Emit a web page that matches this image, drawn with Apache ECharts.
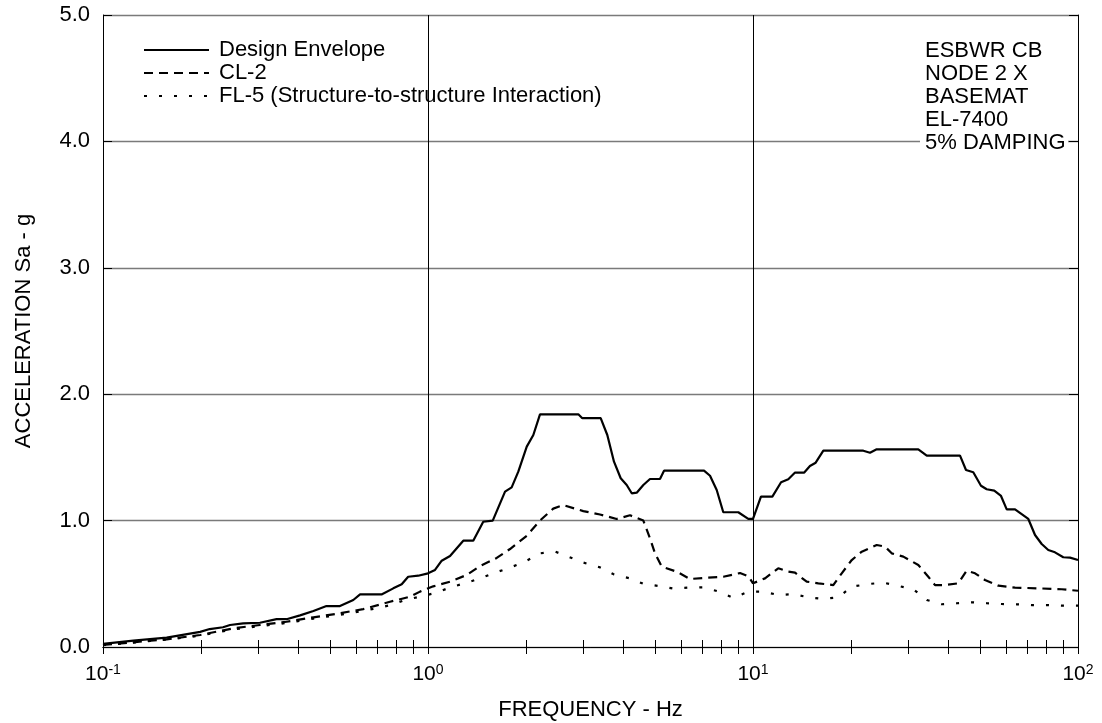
<!DOCTYPE html>
<html>
<head>
<meta charset="utf-8">
<script src="https://cdn.jsdelivr.net/npm/echarts@6/dist/echarts.min.js"></script>
<style>
html,body{margin:0;padding:0;background:#fff;}
#chart{width:1102px;height:723px;}
</style>
</head>
<body>
<div id="chart"></div>
<script>
// ---- data ----
const seriesNames = ['Design Envelope', 'CL-2', 'FL-5 (Structure-to-structure Interaction)'];

const designFreq = [0.1,0.124,0.157,0.199,0.213,0.234,0.246,0.27,0.304,0.342,0.367,0.404,0.444,0.487,0.536,0.589,0.618,0.722,0.782,0.83,0.869,0.933,1.0,1.051,1.102,1.169,1.284,1.378,1.479,1.582,1.726,1.809,1.896,2.013,2.109,2.211,2.901,2.984,3.399,3.562,3.735,3.917,4.087,4.235,4.388,4.598,4.82,5.174,5.324,7.068,7.375,7.733,8.101,9.01,9.672,10.0,10.58,11.47,12.2,12.84,13.47,14.38,14.97,15.59,16.46,21.85,22.91,24.02,32.26,34.24,43.35,45.23,47.62,50.29,52.37,55.25,57.96,60.35,64.01,70.33,73.75,77.32,81.01,84.95,90.1,94.5,100];
const designVal = [0.024,0.05,0.074,0.12,0.142,0.156,0.174,0.187,0.192,0.22,0.22,0.25,0.285,0.324,0.324,0.372,0.417,0.417,0.464,0.496,0.556,0.564,0.583,0.61,0.683,0.72,0.841,0.841,0.991,1.0,1.229,1.263,1.387,1.585,1.677,1.841,1.841,1.81,1.81,1.677,1.466,1.335,1.282,1.216,1.221,1.282,1.329,1.329,1.395,1.395,1.355,1.242,1.066,1.066,1.013,1.013,1.19,1.19,1.303,1.327,1.38,1.38,1.432,1.458,1.553,1.553,1.537,1.564,1.564,1.514,1.514,1.40,1.382,1.276,1.248,1.237,1.195,1.089,1.089,1.013,0.886,0.815,0.767,0.749,0.71,0.707,0.688];

const cl2Freq = [0.1,0.157,0.199,0.252,0.304,0.367,0.444,0.536,0.632,0.764,0.88,0.945,1.038,1.169,1.316,1.445,1.627,1.788,2.013,2.211,2.429,2.608,3.005,3.382,3.806,4.183,4.598,4.82,4.995,5.237,5.825,6.401,7.203,8.101,9.12,9.672,10.0,10.89,11.96,12.84,13.47,14.63,15.88,17.66,18.75,20.13,21.61,24.02,25.48,26.72,29.01,32.26,34.63,36.31,38.97,42.83,45.46,48.22,51.73,56.86,64.01,75.48,89.1,100];
const cl2Val = [0.016,0.061,0.095,0.148,0.174,0.2,0.235,0.267,0.30,0.358,0.398,0.438,0.48,0.517,0.57,0.64,0.705,0.775,0.88,1.0,1.095,1.123,1.075,1.048,1.013,1.042,1.0,0.86,0.741,0.636,0.596,0.538,0.548,0.556,0.585,0.56,0.504,0.543,0.623,0.596,0.588,0.517,0.504,0.49,0.583,0.688,0.754,0.807,0.794,0.741,0.715,0.649,0.556,0.49,0.49,0.504,0.604,0.583,0.53,0.485,0.47,0.464,0.457,0.445];

const fl5Freq = [0.1,0.157,0.199,0.252,0.304,0.367,0.444,0.536,0.632,0.764,0.85,0.945,1.064,1.169,1.3,1.445,1.608,1.788,1.988,2.211,2.459,2.702,3.005,3.382,3.716,4.183,4.598,5.113,5.686,6.323,7.032,7.82,8.697,9.672,10.76,11.96,13.3,14.79,16.46,18.3,20.13,22.63,25.17,27.99,31.13,34.24,38.07,42.35,47.1,52.37,58.25,64.78,72.03,80.11,89.1,100];
const fl5Val = [0.015,0.058,0.09,0.14,0.165,0.19,0.225,0.255,0.285,0.33,0.372,0.398,0.43,0.472,0.504,0.543,0.588,0.628,0.675,0.741,0.755,0.715,0.668,0.63,0.577,0.543,0.5,0.483,0.462,0.47,0.472,0.44,0.388,0.438,0.438,0.411,0.419,0.393,0.38,0.393,0.477,0.498,0.509,0.483,0.457,0.372,0.338,0.346,0.354,0.346,0.34,0.338,0.332,0.332,0.327,0.327];

const xLabelValues = [0.1, 1, 10, 100];
const xTickValues = [0.1,0.2,0.3,0.4,0.5,0.6,0.7,0.8,0.9,1,2,3,4,5,6,7,8,9,10,20,30,40,50,60,70,80,90,100];
const xGridValues = [1, 10];
const yMin = 0, yMax = 5, yStep = 1;
const xTitle = 'FREQUENCY - Hz';
const yTitle = 'ACCELERATION Sa - g';
const noteLines = ['ESBWR CB', 'NODE 2 X', 'BASEMAT', 'EL-7400', '5% DAMPING'];

// ---- chart ----
const FONT = 'Liberation Sans, Arial, Helvetica, sans-serif';
const zip = (a, b) => a.map((v, i) => [v, b[i]]);
const chart = echarts.init(document.getElementById('chart'), null, {renderer: 'canvas'});

const tickStyle = {show: true, inside: true, length: 7, lineStyle: {color: '#000', width: 1}};
const lineAxis = {show: true, lineStyle: {color: '#000', width: 1}};
const clear = 'rgba(0,0,0,0)';

const option = {
  animation: false,
  backgroundColor: '#fff',
  textStyle: {fontFamily: FONT, color: '#000'},
  grid: {left: 103, right: 24, top: 15, bottom: 76, containLabel: false, outerBoundsMode: 'none'},
  legend: {
    data: seriesNames,
    orient: 'vertical',
    left: 143, top: 39, padding: 0,
    itemWidth: 65, itemHeight: 14, itemGap: 1,
    z: 10,
    itemStyle: {color: clear, borderColor: clear, borderWidth: 0},
    textStyle: {fontFamily: FONT, fontSize: 22, color: '#000', padding: [0, 0, 0, 5]},
    selectedMode: false
  },
  xAxis: [{
    type: 'log', logBase: 10, min: 0.1, max: 100, position: 'bottom',
    axisLine: lineAxis,
    axisTick: Object.assign({customValues: xTickValues}, tickStyle),
    axisLabel: {
      customValues: xLabelValues,
      margin: 16,
      color: '#000',
      formatter: function (v) {
        const e = Math.round(Math.log10(v));
        return '{b|10}{s|' + e + '}';
      },
      rich: {
        b: {fontFamily: FONT, fontSize: 21, lineHeight: 22, color: '#000', verticalAlign: 'bottom'},
        s: {fontFamily: FONT, fontSize: 14, lineHeight: 14, color: '#000', verticalAlign: 'top'}
      }
    },
    splitLine: {show: false},
    name: xTitle, nameLocation: 'middle', nameGap: 52,
    nameTextStyle: {fontFamily: FONT, fontSize: 22, color: '#000'}
  }, {
    type: 'log', logBase: 10, min: 0.1, max: 100, position: 'top',
    axisLine: lineAxis,
    axisTick: Object.assign({customValues: xTickValues}, tickStyle),
    axisLabel: {show: false},
    splitLine: {show: false}
  }],
  yAxis: [{
    type: 'value', min: yMin, max: yMax, interval: yStep, position: 'left',
    axisLine: lineAxis,
    axisTick: {show: true, inside: true, length: 9, lineStyle: {color: '#000', width: 1}},
    axisLabel: {margin: 13, fontFamily: FONT, fontSize: 22, color: '#000', formatter: v => v.toFixed(1)},
    splitLine: {show: true, lineStyle: {color: '#7a7a7a', width: 1.3}},
    name: yTitle, nameLocation: 'middle', nameGap: 68, nameRotate: 90,
    nameTextStyle: {fontFamily: FONT, fontSize: 22, color: '#000'}
  }, {
    type: 'value', min: yMin, max: yMax, interval: yStep, position: 'right',
    axisLine: lineAxis,
    axisTick: {show: true, inside: true, length: 9, lineStyle: {color: '#000', width: 1}},
    axisLabel: {show: false},
    splitLine: {show: false}
  }],
  series: [{
    name: seriesNames[0], type: 'line', data: zip(designFreq, designVal),
    symbol: 'none', showSymbol: false, clip: true,
    lineStyle: {color: '#000', width: 2.2, type: 'solid'},
    itemStyle: {color: '#000'},
    markLine: {
      silent: true, symbol: ['none', 'none'], label: {show: false},
      lineStyle: {color: '#000', width: 1, type: 'solid'},
      data: xGridValues.map(v => ({xAxis: v}))
    }
  }, {
    name: seriesNames[1], type: 'line', data: zip(cl2Freq, cl2Val),
    symbol: 'none', showSymbol: false,
    lineStyle: {color: '#000', width: 2.2, type: [9, 6]},
    itemStyle: {color: '#000'}
  }, {
    name: seriesNames[2], type: 'line', data: zip(fl5Freq, fl5Val),
    symbol: 'none', showSymbol: false,
    lineStyle: {color: '#000', width: 2.2, type: [3, 12]},
    itemStyle: {color: '#000'}
  }],
  graphic: [
    {type: 'rect', z: 5, silent: true, shape: {x: 105, y: 24, width: 540, height: 106}, style: {fill: '#fff'}},
    {type: 'rect', z: 5, silent: true, shape: {x: 920, y: 26, width: 148, height: 128}, style: {fill: '#fff'}},
    {type: 'text', z: 10, silent: true, left: 925, top: 39,
     style: {text: noteLines.join('\n'), fontFamily: FONT, fontSize: 22, lineHeight: 23, fill: '#000'}}
  ]
};
chart.setOption(option);
</script>
</body>
</html>
